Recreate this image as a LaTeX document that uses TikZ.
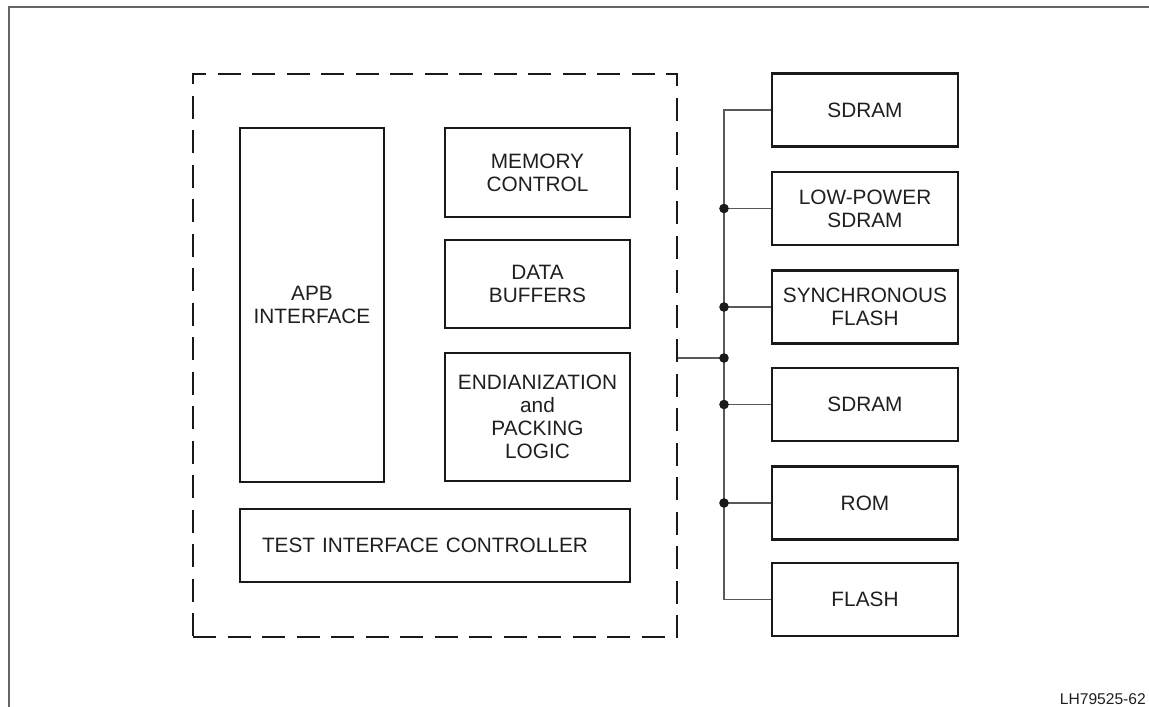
\documentclass[tikz,border=0pt]{standalone}
\usepackage{fontspec}
\setmainfont{Liberation Sans}
\begin{document}
\begin{tikzpicture}[x=1pt,y=-1pt,
  blk/.style={draw=black!90, line width=2.4pt, align=center, inner sep=0pt,
    font=\fontsize{20.8}{23}\selectfont, text=black!88},
  mem/.style={blk, minimum width=186pt, minimum height=73pt},
  chipbox/.style={draw=black!90, line width=2.8pt, dash pattern=on 23pt off 11.5pt,
    minimum width=484pt, minimum height=563pt, inner sep=0pt},
  conn/.style={draw=black!65, line width=1.3pt},
  dot/.style={fill=black!90},
  frame/.style={draw=black!60, line width=1.2pt}]
\useasboundingbox (0,0) rectangle (1149,707);

% outer frame (top and left edges)
\draw[frame] (9,707) -- (9,7) -- (1149,7);

% controller boundary
\node[chipbox] (chip) at (435,355.5) {};

% internal blocks
\node[blk, minimum width=144pt, minimum height=354pt] (apb) at (312,305) {APB\\INTERFACE};
\node[blk, minimum width=185pt, minimum height=89pt] (mc) at (537.5,172.5) {MEMORY\\CONTROL};
\node[blk, minimum width=185pt, minimum height=88pt] (db) at (537.5,284) {DATA\\BUFFERS};
\node[blk, minimum width=185pt, minimum height=128pt] (endi) at (537.5,417) {ENDIANIZATION\\and\\PACKING\\LOGIC};
\node[blk, minimum height=73pt, text width=346pt, inner xsep=22pt, align=left] (tic) at (435,545.5) {TEST INTERFACE CONTROLLER};

% external memories
\node[mem] (sd1) at (865,110) {SDRAM};
\node[mem] (lp)  at (865,208.5) {LOW-POWER\\SDRAM};
\node[mem] (sf)  at (865,307) {SYNCHRONOUS\\FLASH};
\node[mem] (sd2) at (865,404.5) {SDRAM};
\node[mem] (rom) at (865,503) {ROM};
\node[mem] (fl)  at (865,599.5) {FLASH};

% memory bus
\coordinate (bus) at (724,358);
\draw[conn] (sd1.west) -| (bus) |- (fl.west);
\draw[conn] (chip.east |- bus) -- (bus);
\fill[dot] (bus) circle (4.8pt);
\foreach \m in {lp,sf,sd2,rom}{
  \draw[conn] (\m.west) -- (\m.west -| bus);
  \fill[dot] (\m.west -| bus) circle (4.8pt);
}

% figure reference
\node[anchor=base east, inner sep=0pt, font=\fontsize{15.6}{18}\selectfont, text=black!88] (ref) at (1146,704) {LH79525-62};
\end{tikzpicture}
\end{document}
